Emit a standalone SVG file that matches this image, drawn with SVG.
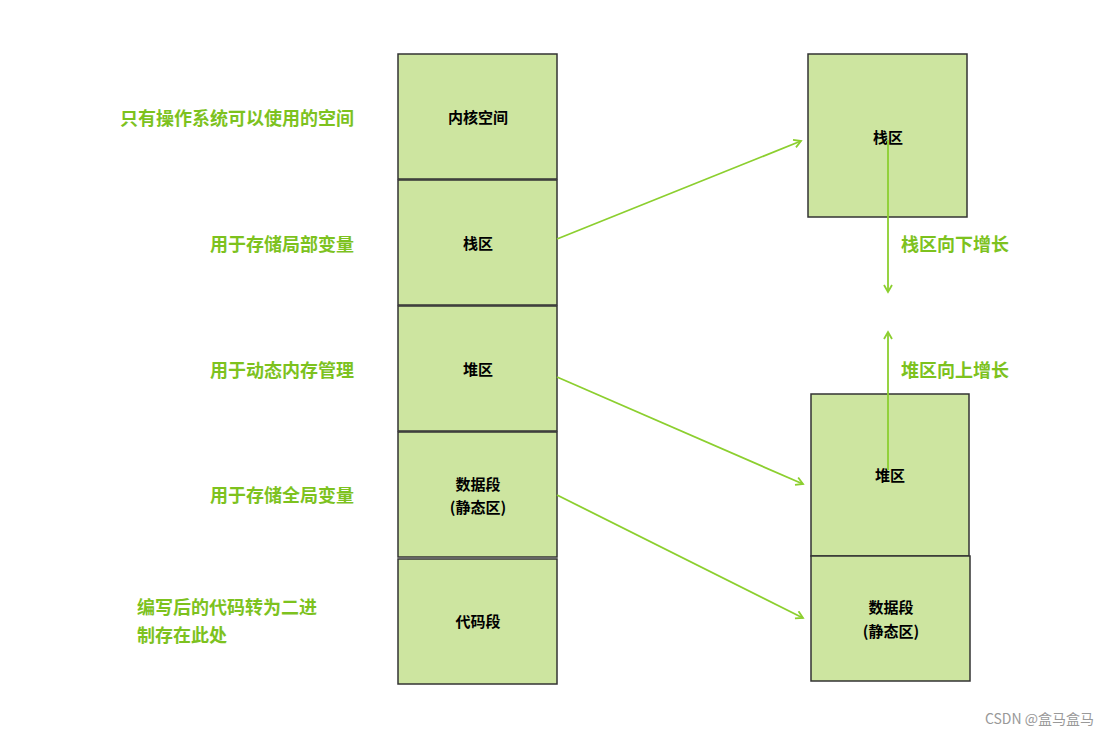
<svg xmlns="http://www.w3.org/2000/svg" width="1107" height="737" viewBox="0 0 1107 737">
<style>
.b{fill:#cde5a0;stroke:#333;stroke-width:1.5}
.t{font-family:"Noto Sans CJK SC",sans-serif;font-size:15px;font-weight:bold;fill:#000;text-anchor:middle}
.g{font-family:"Noto Sans CJK SC",sans-serif;font-size:18px;font-weight:bold;fill:#7dc21e}
.c{stroke:#8ccf2f;stroke-width:1.8;fill:none;marker-end:url(#a)}
</style>
<defs><marker id="a" markerWidth="10" markerHeight="10" refX="8" refY="5" orient="auto" markerUnits="userSpaceOnUse"><path d="M1,1 L8,5 L1,9" fill="none" stroke="#8ccf2f" stroke-width="1.8"/></marker></defs>
<rect width="1107" height="737" fill="#fff"/>
<g id="n1"><rect class="b" x="398" y="54" width="159" height="125"/><text class="t" x="478" y="123">内核空间</text></g>
<g id="n2"><rect class="b" x="398" y="180" width="159" height="125"/><text class="t" x="478" y="249">栈区</text></g>
<g id="n3"><rect class="b" x="398" y="306" width="159" height="125"/><text class="t" x="478" y="375">堆区</text></g>
<g id="n4"><rect class="b" x="398" y="432" width="159" height="125"/><text class="t" x="478" y="490">数据段</text><text class="t" x="478" y="513">(静态区)</text></g>
<g id="n5"><rect class="b" x="398" y="559" width="159" height="125"/><text class="t" x="478" y="627">代码段</text></g>
<g id="r1"><rect class="b" x="808" y="54" width="159" height="163"/><text class="t" x="888" y="143">栈区</text></g>
<g id="r2"><rect class="b" x="811" y="394" width="158" height="162"/><text class="t" x="890" y="481">堆区</text></g>
<g id="r3"><rect class="b" x="811" y="556" width="159" height="125"/><text class="t" x="891" y="613">数据段</text><text class="t" x="891" y="637">(静态区)</text></g>
<g id="labels">
<text class="g" x="354" y="125" text-anchor="end">只有操作系统可以使用的空间</text>
<text class="g" x="354" y="251" text-anchor="end">用于存储局部变量</text>
<text class="g" x="354" y="377" text-anchor="end">用于动态内存管理</text>
<text class="g" x="354" y="502" text-anchor="end">用于存储全局变量</text>
<text class="g" x="137" y="614">编写后的代码转为二进</text>
<text class="g" x="137" y="642">制存在此处</text>
<text class="g" x="901" y="251">栈区向下增长</text>
<text class="g" x="901" y="377">堆区向上增长</text>
</g>
<g id="connectors">
<path class="c" d="M557,239 L801,141"/>
<path class="c" d="M557,377 L803,484"/>
<path class="c" d="M557,495 L803,618"/>
<path class="c" d="M888,140 L888,292"/>
<path class="c" d="M888,470 L888,332"/>
</g>
<text x="1094" y="724" text-anchor="end" font-family="'Noto Sans CJK SC',sans-serif" font-size="14" fill="#999">CSDN @盒马盒马</text>
</svg>
